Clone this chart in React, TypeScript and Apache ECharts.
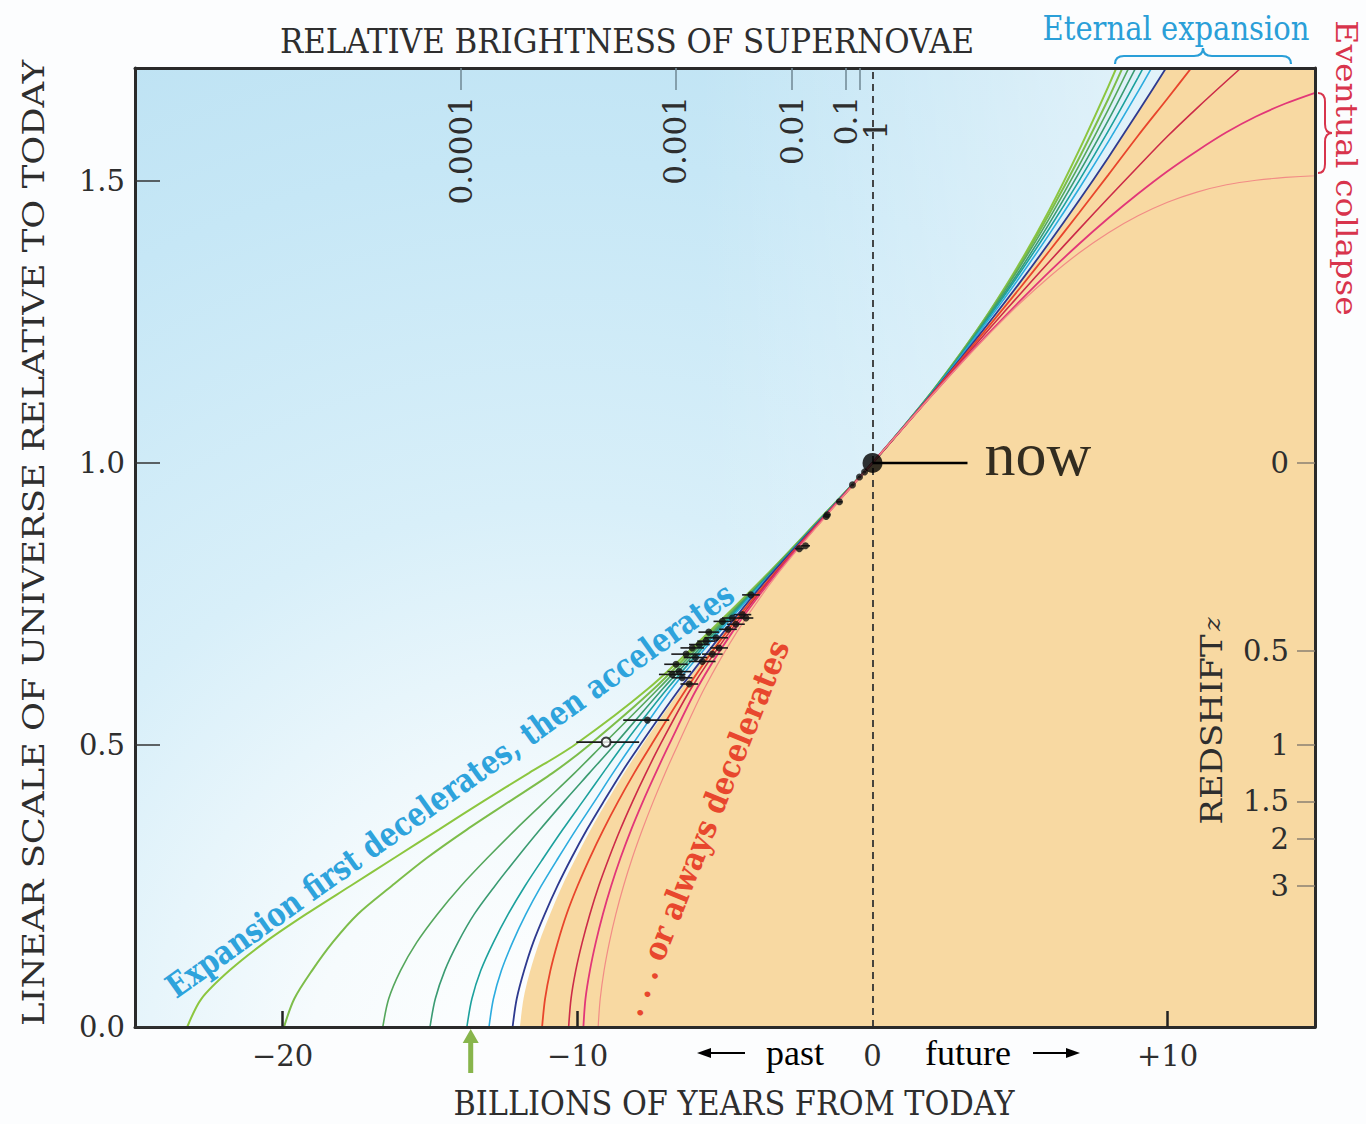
import React, { useEffect, useRef } from 'react';
import * as echarts from 'echarts';

// ---------- axis ticks & labels ----------
const xTickValues = [-20, -10, 10];
const xLabelValues = [-20, -10, 0, 10];
const redshiftLabels = ['0', '0.5', '1', '1.5', '2', '3'];
const redshiftValues = [0, 0.5, 1, 1.5, 2, 3];
const brightnessLabels = ['0.0001', '0.001', '0.01', '0.1', '1'];
const brightnessTimes = [-13.95, -6.68, -2.73, -0.9, -0.42];

// ---------- expansion histories: [billions of years from today, scale] ----------
const curve1 = [[-23.23,0],[-22.75,0.05],[-21.8,0.1],[-20.6,0.15],[-19.2,0.2],[-17.7,0.25],[-16.2,0.3],[-14.7,0.35],[-13.2,0.4],[-11.65,0.45],[-10.1,0.5],[-7.6,0.6],[-5.55,0.7],[-3.62,0.8],[-1.8,0.9],[0,1],[1,1.061],[2,1.125],[3,1.195],[4,1.271],[5,1.355],[6,1.449],[7,1.554],[8,1.668],[8.5,1.729]];
const curve2 = [[-19.95,0],[-19.6,0.05],[-19.0,0.1],[-18.3,0.15],[-17.45,0.2],[-16.3,0.25],[-15.1,0.3],[-13.75,0.35],[-12.3,0.4],[-10.85,0.45],[-9.6,0.5],[-7.4,0.6],[-5.5,0.7],[-3.6,0.8],[-1.79,0.9],[0,1],[1,1.061],[2,1.125],[3,1.195],[4,1.27],[5,1.352],[6,1.442],[7,1.54],[8,1.646],[8.5,1.703],[9,1.76]];
const curve3 = [[-16.6,0],[-16.4,0.05],[-16.0,0.1],[-15.45,0.15],[-14.75,0.2],[-13.95,0.25],[-13.05,0.3],[-12.1,0.35],[-11.1,0.4],[-10.1,0.45],[-9.15,0.5],[-7.25,0.6],[-5.42,0.7],[-3.57,0.8],[-1.78,0.9],[0,1],[1,1.061],[2,1.125],[3,1.194],[4,1.268],[5,1.348],[6,1.434],[7,1.527],[8,1.627],[9,1.734]];
const curve4 = [[-15.0,0],[-14.82,0.05],[-14.5,0.1],[-14.05,0.15],[-13.5,0.2],[-12.8,0.25],[-12.05,0.3],[-11.27,0.35],[-10.45,0.4],[-9.6,0.45],[-8.75,0.5],[-7.1,0.6],[-5.35,0.7],[-3.55,0.8],[-1.77,0.9],[0,1],[1,1.061],[2,1.124],[3,1.192],[4,1.265],[5,1.342],[6,1.425],[7,1.514],[8,1.608],[9,1.708]];
const curve5 = [[-13.75,0],[-13.58,0.05],[-13.28,0.1],[-12.85,0.15],[-12.35,0.2],[-11.78,0.25],[-11.15,0.3],[-10.5,0.35],[-9.82,0.4],[-9.14,0.45],[-8.45,0.5],[-6.95,0.6],[-5.28,0.7],[-3.52,0.8],[-1.76,0.9],[0,1],[1,1.061],[2,1.124],[3,1.191],[4,1.262],[5,1.337],[6,1.416],[7,1.5],[8,1.589],[9,1.683],[10,1.781]];
const curve6 = [[-13.0,0],[-12.85,0.05],[-12.58,0.1],[-12.2,0.15],[-11.75,0.2],[-11.23,0.25],[-10.65,0.3],[-10.05,0.35],[-9.42,0.4],[-8.8,0.45],[-8.15,0.5],[-6.8,0.6],[-5.2,0.7],[-3.5,0.8],[-1.75,0.9],[0,1],[1,1.061],[2,1.123],[3,1.189],[4,1.258],[5,1.33],[6,1.406],[7,1.486],[8,1.57],[9,1.658],[10,1.75]];
const curve7 = [[-12.2,0],[-12.06,0.05],[-11.81,0.1],[-11.5,0.15],[-11.11,0.2],[-10.68,0.25],[-10.2,0.3],[-9.68,0.35],[-9.11,0.4],[-8.52,0.45],[-7.88,0.5],[-6.53,0.6],[-5.05,0.7],[-3.47,0.8],[-1.74,0.9],[0,1],[1,1.06],[2,1.122],[3,1.186],[4,1.252],[5,1.32],[6,1.391],[7,1.465],[8,1.542],[9,1.622],[10,1.704],[10.5,1.746]];
const curve8 = [[-11.2,0],[-11.1,0.05],[-10.92,0.1],[-10.67,0.15],[-10.37,0.2],[-10.0,0.25],[-9.58,0.3],[-9.12,0.35],[-8.62,0.4],[-8.08,0.45],[-7.5,0.5],[-6.3,0.6],[-4.95,0.7],[-3.4,0.8],[-1.72,0.9],[0,1],[1,1.06],[2,1.121],[3,1.183],[4,1.246],[5,1.31],[6,1.376],[7,1.443],[8,1.511],[9,1.58],[10,1.646],[11,1.713]];
const curve9 = [[-10.3,0],[-10.22,0.05],[-10.06,0.1],[-9.84,0.15],[-9.58,0.2],[-9.28,0.25],[-8.93,0.3],[-8.55,0.35],[-8.13,0.4],[-7.68,0.45],[-7.2,0.5],[-6.15,0.6],[-4.85,0.7],[-3.36,0.8],[-1.7,0.9],[0,1],[1,1.06],[2,1.12],[3,1.18],[4,1.24],[5,1.299],[6,1.357],[7,1.414],[8,1.47],[9,1.525],[10,1.579],[11,1.629],[12,1.677],[13,1.724]];
const curve10 = [[-9.8,0],[-9.73,0.05],[-9.58,0.1],[-9.38,0.15],[-9.14,0.2],[-8.86,0.25],[-8.54,0.3],[-8.18,0.35],[-7.78,0.4],[-7.35,0.45],[-6.9,0.5],[-5.95,0.6],[-4.75,0.7],[-3.32,0.8],[-1.69,0.9],[0,1],[1,1.06],[2,1.119],[3,1.177],[4,1.233],[5,1.287],[6,1.339],[7,1.388],[8,1.434],[9,1.477],[10,1.517],[11,1.553],[12,1.586],[13,1.614],[14,1.637],[15,1.656]];
const curve11 = [[-9.3,0],[-9.23,0.05],[-9.1,0.1],[-8.92,0.15],[-8.7,0.2],[-8.44,0.25],[-8.14,0.3],[-7.8,0.35],[-7.43,0.4],[-7.03,0.45],[-6.6,0.5],[-5.7,0.6],[-4.6,0.7],[-3.26,0.8],[-1.67,0.9],[0,1],[1,1.06],[2,1.119],[3,1.176],[4,1.231],[5,1.283],[6,1.33],[7,1.372],[8,1.408],[9,1.438],[10,1.462],[11,1.48],[12,1.493],[13,1.501],[14,1.506],[15,1.509]];
const curves = [curve1, curve2, curve3, curve4, curve5, curve6, curve7, curve8, curve9, curve10, curve11];
const curveColors = ['#8cc63f', '#7dbd4a', '#55a75c', '#3a9b72', '#1ca19d', '#2cacdf', '#2e3a8f', '#e8452c', '#cc2b48', '#e23778', '#f28c86'];
const curveWidths = [2, 2, 1.6, 1.6, 1.6, 1.6, 1.8, 1.8, 1.6, 1.8, 1.2];

// boundary of the shaded "decelerating" region
const orangeEdge = [[-11.95,0],[-11.83,0.05],[-11.6,0.1],[-11.3,0.15],[-10.93,0.2],[-10.52,0.25],[-10.05,0.3],[-9.55,0.35],[-9.0,0.4],[-8.42,0.45],[-7.8,0.5],[-6.48,0.6],[-5.02,0.7],[-3.46,0.8],[-1.74,0.9],[0,1],[1,1.06],[2,1.122],[3,1.186],[4,1.252],[5,1.32],[6,1.391],[7,1.465],[8,1.542],[9,1.622],[10,1.704],[11,1.79],[15,2.2]];

// ---------- supernova measurements ----------
const snT = [-6.79,-6.66,-6.55,-6.45,-6.32,-6.21,-6.11,-6.0,-5.87,-5.77,-5.64,-5.55,-5.43,-5.3,-5.2,-5.09,-4.9,-4.75,-4.63,-4.41,-4.29,-4.12,-2.48,-2.27,-1.57,-1.53,-1.12,-0.68,-0.44,-0.27,-7.63];
const snA = [0.625,0.643,0.63,0.619,0.661,0.608,0.672,0.655,0.678,0.648,0.684,0.7,0.661,0.69,0.672,0.719,0.705,0.725,0.714,0.731,0.725,0.766,0.848,0.853,0.905,0.908,0.931,0.961,0.975,0.984,0.544];
const snLow = [-7.24,-7.06,-6.95,-6.8,-6.82,-6.51,-6.51,-6.4,-6.22,-6.22,-5.94,-5.9,-5.78,-5.7,-5.5,-5.39,-5.2,-5.1,-4.93,-4.71,-4.54,-4.42,-2.63,-2.42,-1.67,-1.63,-1.22,-0.73,-0.49,-0.32,-8.45];
const snHigh = [-6.34,-6.26,-6.15,-6.1,-5.82,-5.91,-5.71,-5.6,-5.52,-5.32,-5.34,-5.2,-5.08,-4.9,-4.9,-4.79,-4.6,-4.4,-4.33,-4.11,-4.04,-3.82,-2.33,-2.12,-1.47,-1.43,-1.02,-0.63,-0.39,-0.22,-6.89];
const openT = [-9.03];
const openA = [0.505];
const openLow = [-10.04];
const openHigh = [-7.91];

const nowPoint = [0, 1];
const nowLineEnd = 3.22;
const arrowT = -13.62;

// ---------- shapes for braces ----------
echarts.graphic.registerShape(
  'braceH',
  echarts.graphic.extendPath('M0,16 Q0,8 9,8 L79,8 Q88,8 88,0 Q88,8 97,8 L167,8 Q176,8 176,16', {})
);
echarts.graphic.registerShape(
  'braceV',
  echarts.graphic.extendPath('M0,0 Q7,0 7,9 L7,31 Q7,40 14,40 Q7,40 7,49 L7,71 Q7,80 0,80', {})
);

const SERIF = 'DejaVu Serif';
const TIMES = 'Liberation Serif';
const INK = '#2e2e2e';

function fmtX(v: number) {
  if (v === 0) return '0';
  return v > 0 ? '+' + v : '\u2212' + Math.abs(v);
}

export default function App() {
  const ref = useRef<HTMLDivElement>(null);
  useEffect(() => {
    document.body.style.margin = '0';
    document.body.style.overflow = 'hidden';
    const chart = echarts.init(ref.current!, null, { renderer: 'svg' });

    const redshiftPos = redshiftValues.map((z) => 1 / (1 + z));
    const fmtZ = (v: number) => {
      const i = redshiftPos.findIndex((p) => Math.abs(p - v) < 1e-6);
      return i >= 0 ? redshiftLabels[i] : '';
    };
    const fmtB = (v: number) => {
      const i = brightnessTimes.findIndex((p) => Math.abs(p - v) < 1e-6);
      return i >= 0 ? brightnessLabels[i] : '';
    };
    const brightMain = brightnessTimes.slice(0, brightnessTimes.length - 1);
    const brightLast = brightnessTimes.slice(brightnessTimes.length - 1);

    const frame = { onZero: false, lineStyle: { color: '#2a2a2a', width: 3 } };
    const labelFont = { fontFamily: SERIF, fontSize: 29, color: INK };
    const topFont = { fontFamily: SERIF, fontSize: 31, color: INK };
    const topTick = { color: '#6f8793', width: 1.5 };

    const curveSeries = curves.map((c, i) => ({
      type: 'line',
      name: 'c' + (i + 1),
      data: c,
      smooth: 0.3,
      symbol: 'none',
      silent: true,
      lineStyle: { color: curveColors[i], width: curveWidths[i] },
      z: 3,
    }));

    const errData = snT.map((t, i) => [snLow[i], snHigh[i], snA[i]]).concat(
      openT.map((t, i) => [openLow[i], openHigh[i], openA[i]])
    );

    const option: any = {
      animation: false,
      backgroundColor: '#fcfdfe',
      grid: { left: 135, top: 68, width: 1180, height: 959, containLabel: false, outerBoundsMode: 'none' },
      xAxis: [
        {
          type: 'value', min: -25, max: 15, position: 'bottom', z: 5,
          axisLine: frame,
          axisTick: { inside: true, length: 16, customValues: xTickValues, lineStyle: { color: '#222', width: 2.5 } },
          axisLabel: { customValues: xLabelValues, formatter: fmtX, margin: 14, showMinLabel: true, showMaxLabel: true, ...labelFont },
          splitLine: { show: false },
        },
        {
          type: 'value', min: -25, max: 15, position: 'top', z: 5,
          axisLine: frame,
          axisTick: { inside: true, length: 22, customValues: brightMain, lineStyle: topTick },
          axisLabel: { inside: true, rotate: -90, customValues: brightMain, formatter: fmtB, margin: 28, showMinLabel: true, showMaxLabel: true, hideOverlap: false, ...topFont },
          splitLine: { show: false },
        },
        {
          type: 'value', min: -25, max: 15, position: 'top', offset: 0, z: 5,
          axisLine: { show: false, onZero: false },
          axisTick: { inside: true, length: 22, customValues: brightLast, lineStyle: topTick },
          axisLabel: { inside: true, rotate: -90, verticalAlign: 'top', customValues: brightLast, formatter: fmtB, margin: 52, showMinLabel: true, showMaxLabel: true, ...topFont },
          splitLine: { show: false },
        },
      ],
      yAxis: [
        {
          type: 'value', min: 0, max: 1.7, interval: 0.5, position: 'left', z: 5,
          axisLine: frame,
          axisTick: { inside: true, length: 25, lineStyle: { color: '#333', width: 1.5 } },
          axisLabel: { formatter: (v: number) => v.toFixed(1), margin: 10, showMaxLabel: false, ...labelFont },
          splitLine: { show: false },
        },
        {
          type: 'value', min: 0, max: 1.7, position: 'right', z: 5,
          axisLine: frame,
          axisTick: { inside: true, length: 18, customValues: redshiftPos, lineStyle: { color: '#8b7f70', width: 1.5 } },
          axisLabel: { inside: true, customValues: redshiftPos, formatter: fmtZ, margin: 26, showMinLabel: true, showMaxLabel: true, ...labelFont },
          splitLine: { show: false },
        },
      ],
      series: [
        {
          type: 'line', name: 'decelerating region', data: orangeEdge, smooth: 0.3,
          symbol: 'none', silent: true, lineStyle: { width: 0, opacity: 0 },
          areaStyle: { color: '#f8d9a2', opacity: 1 }, z: 1,
        },
        ...curveSeries,
        {
          type: 'custom', name: 'error bars', silent: true, z: 6,
          data: errData,
          encode: { x: [0, 1], y: 2 },
          renderItem: (params: any, api: any) => {
            const p1 = api.coord([api.value(0), api.value(2)]);
            const p2 = api.coord([api.value(1), api.value(2)]);
            return { type: 'line', shape: { x1: p1[0], y1: p1[1], x2: p2[0], y2: p2[1] }, style: { stroke: '#1a1a1a', lineWidth: 1.6 } };
          },
        },
        {
          type: 'scatter', name: 'supernovae', silent: true, z: 7,
          data: snT.map((t, i) => [t, snA[i]]),
          symbolSize: 7, itemStyle: { color: '#111' },
        },
        {
          type: 'scatter', name: 'supernovae open', silent: true, z: 7,
          data: openT.map((t, i) => [t, openA[i]]),
          symbol: 'emptyCircle', symbolSize: 9, itemStyle: { color: '#111', borderColor: '#111', borderWidth: 1.6 },
        },
        {
          type: 'line', name: 'now line', data: [nowPoint, [nowLineEnd, 1]], symbol: 'none', silent: true, z: 8,
          lineStyle: { color: '#000', width: 2.5 },
          markLine: {
            silent: true, symbol: ['none', 'none'], label: { show: false },
            lineStyle: { color: '#333', width: 1.8, type: [7, 5] },
            data: [{ xAxis: 0 }],
          },
        },
        {
          type: 'scatter', name: 'now', data: [nowPoint], symbolSize: 20, silent: true, z: 9,
          itemStyle: { color: '#000' },
        },
        {
          type: 'scatter', name: 'now label', data: [[nowLineEnd, 1]], symbolSize: 2, silent: true, z: 9,
          itemStyle: { color: 'rgba(0,0,0,0)' },
          label: { show: true, formatter: 'now', position: 'right', distance: 16, offset: [0, -9], fontFamily: TIMES, fontSize: 62, color: '#000' },
        },
        {
          type: 'scatter', name: 'arrow', data: [[arrowT, -0.0424]], clip: false, silent: true, z: 9,
          symbol: 'path://M8,0 L16,14 L10.5,14 L10.5,44 L5.5,44 L5.5,14 L0,14 Z',
          symbolSize: [16, 44], symbolKeepAspect: false,
          itemStyle: { color: '#6aa31f' },
        },
      ],
      graphic: [
        {
          type: 'rect', z: -10, silent: true,
          shape: { x: 135, y: 68, width: 1180, height: 959 },
          style: {
            fill: new echarts.graphic.RadialGradient(560, 1080, 1150, [
              { offset: 0, color: '#ffffff' },
              { offset: 0.22, color: '#f6fbfd' },
              { offset: 0.5, color: '#d8eff9' },
              { offset: 0.8, color: '#c6e7f6' },
              { offset: 1, color: '#bde2f3' },
            ], true),
          },
        },
        {
          type: 'rect', z: -9, silent: true,
          shape: { x: 135, y: 68, width: 1180, height: 959 },
          style: {
            fill: new echarts.graphic.LinearGradient(700, 0, 1150, 0, [
              { offset: 0, color: 'rgba(255,255,255,0)' },
              { offset: 1, color: 'rgba(255,255,255,0.55)' },
            ], true),
          },
        },
        {
          type: 'text', x: 627, y: 41, scaleX: 0.91, z: 100, silent: true,
          style: { text: 'RELATIVE BRIGHTNESS OF SUPERNOVAE', fontFamily: SERIF, fontSize: 34, fill: INK, align: 'center', verticalAlign: 'middle' },
        },
        {
          type: 'text', x: 734, y: 1104, scaleX: 0.92, z: 100, silent: true,
          style: { text: 'BILLIONS OF YEARS FROM TODAY', fontFamily: SERIF, fontSize: 33, fill: INK, align: 'center', verticalAlign: 'middle' },
        },
        {
          type: 'text', x: 33, y: 543, rotation: Math.PI / 2, scaleY: 0.86, z: 100, silent: true,
          style: { text: 'LINEAR SCALE OF UNIVERSE RELATIVE TO TODAY', fontFamily: SERIF, fontSize: 35.4, fill: INK, align: 'center', verticalAlign: 'middle' },
        },
        {
          type: 'text', x: 1212, y: 721, rotation: Math.PI / 2, scaleY: 0.88, z: 100, silent: true,
          style: {
            text: '{a|REDSHIFT} {b|z}', align: 'center', verticalAlign: 'middle',
            rich: {
              a: { fontFamily: SERIF, fontSize: 34, fill: INK, color: INK },
              b: { fontFamily: SERIF, fontStyle: 'italic', fontSize: 26, fill: INK, color: INK },
            },
          },
        },
        {
          type: 'text', x: 1176, y: 28, scaleX: 0.88, z: 100, silent: true,
          style: { text: 'Eternal expansion', fontFamily: SERIF, fontSize: 33, fill: '#2a9fd8', align: 'center', verticalAlign: 'middle' },
        },
        {
          type: 'braceH', x: 1115, y: 48, z: 100, silent: true,
          style: { stroke: '#2a9fd8', lineWidth: 2.2, fill: 'none' },
        },
        {
          type: 'text', x: 1346, y: 168, rotation: -Math.PI / 2, scaleY: 0.88, z: 100, silent: true,
          style: { text: 'Eventual collapse', fontFamily: SERIF, fontSize: 33, fill: '#d8344c', align: 'center', verticalAlign: 'middle' },
        },
        {
          type: 'braceV', x: 1318, y: 93, z: 100, silent: true,
          style: { stroke: '#d8344c', lineWidth: 2, fill: 'none' },
        },
        {
          type: 'text', x: 450, y: 790, rotation: 0.62, scaleX: 0.83, z: 100, silent: true,
          style: { text: 'Expansion first decelerates, then accelerates', fontFamily: SERIF, fontWeight: 'bold', fontSize: 33, fill: '#2ea3dc', align: 'center', verticalAlign: 'middle' },
        },
        {
          type: 'text', x: 705, y: 828, rotation: 1.19, scaleX: 0.89, z: 100, silent: true,
          style: { text: '. . . or always decelerates', fontFamily: SERIF, fontWeight: 'bold', fontSize: 32, fill: '#e8472e', align: 'center', verticalAlign: 'middle' },
        },
        {
          type: 'text', x: 795, y: 1053, z: 100, silent: true,
          style: { text: 'past', fontFamily: TIMES, fontSize: 36, fill: '#000', align: 'center', verticalAlign: 'middle' },
        },
        {
          type: 'text', x: 968, y: 1053, z: 100, silent: true,
          style: { text: 'future', fontFamily: TIMES, fontSize: 36, fill: '#000', align: 'center', verticalAlign: 'middle' },
        },
        { type: 'line', z: 100, silent: true, shape: { x1: 705, y1: 1053, x2: 745, y2: 1053 }, style: { stroke: '#000', lineWidth: 2 } },
        { type: 'polygon', z: 100, silent: true, shape: { points: [[697, 1053], [711, 1048], [711, 1058]] }, style: { fill: '#000' } },
        { type: 'line', z: 100, silent: true, shape: { x1: 1033, y1: 1053, x2: 1072, y2: 1053 }, style: { stroke: '#000', lineWidth: 2 } },
        { type: 'polygon', z: 100, silent: true, shape: { points: [[1080, 1053], [1066, 1048], [1066, 1058]] }, style: { fill: '#000' } },
      ],
    };

    chart.setOption(option);
    return () => chart.dispose();
  }, []);
  return <div ref={ref} style={{ width: 1366, height: 1124 }} />;
}
